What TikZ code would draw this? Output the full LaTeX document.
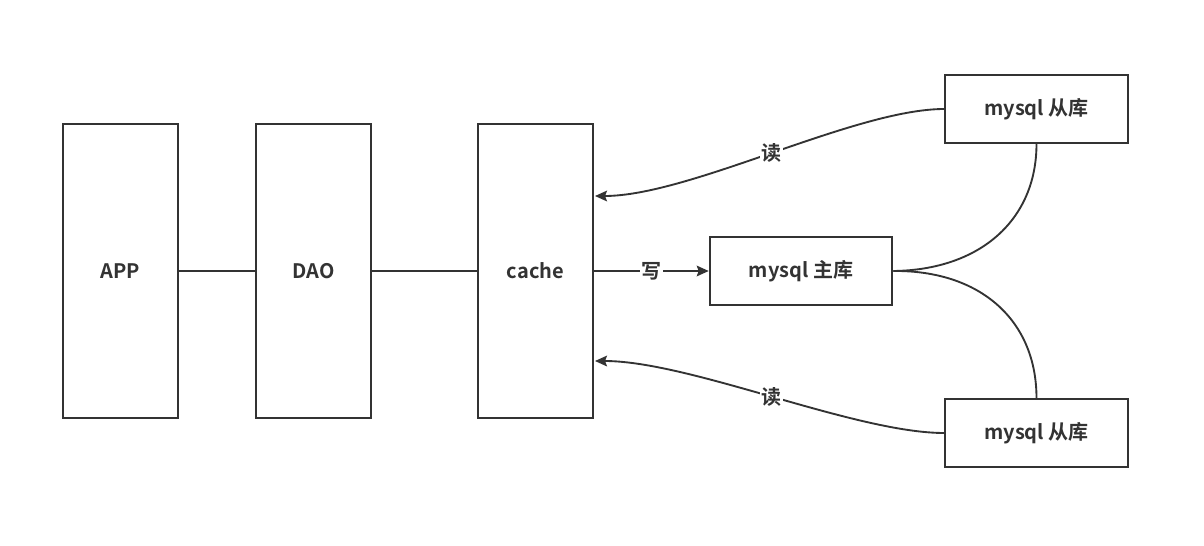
\documentclass[tikz,border=0pt]{standalone}
\usepackage{fontspec}
\setmainfont{Noto Sans CJK SC}[BoldFont={* Bold}]
\usetikzlibrary{positioning}
\usetikzlibrary{arrows.meta}
\definecolor{linegray}{HTML}{333333}
\tikzset{tall box/.style={draw=linegray,line width=1.4pt,minimum width=86.25pt,minimum height=220.5pt,inner sep=0pt,font=\bfseries\fontsize{15}{18}\selectfont,text=linegray}}
\tikzset{db box/.style={tall box,minimum width=137pt,minimum height=51pt}}
\tikzset{flow label/.style={fill=white,inner sep=1pt,font=\bfseries\fontsize{15}{18}\selectfont,text=linegray}}

\begin{document}
\begin{tikzpicture}[x=0.75pt,y=-0.75pt,line width=1.4pt,draw=linegray,>={Stealth[length=9pt,width=8pt,inset=1.5pt]}]
	\useasboundingbox[fill=white] (0,0) rectangle (1204,546);

	\node[tall box] (app) at (120.5,271) {APP};
	\node[tall box] (dao) at (313.5,271) {DAO};
	\node[tall box] (cache) at (535.5,271) {cache};
	\node[db box] (master) at (801,271) {mysql 主库};
	\node[db box] (slave1) at (1036.5,109) {mysql 从库};
	\node[db box] (slave2) at (1036.5,433) {mysql 从库};

	\draw (app) -- (dao);
	\draw (dao) -- (cache);
	\draw[->] (cache) -- node[flow label] {写} (master);

	% read paths
	\coordinate (read1) at (595,196);
	\coordinate (read2) at (595,361);
	\draw[->] (slave1.west) .. controls (855,109) and (690,196) .. node[flow label] {读} (read1);
	\draw[->] (slave2.west) .. controls (855,433) and (690,361) .. node[flow label] {读} (read2);

	% replication
	\draw (master.east) .. controls (980,270) and (1036.5,220) .. (slave1.south);
	\draw (master.east) .. controls (980,270) and (1036.5,320) .. (slave2.north);
\end{tikzpicture}
\end{document}
